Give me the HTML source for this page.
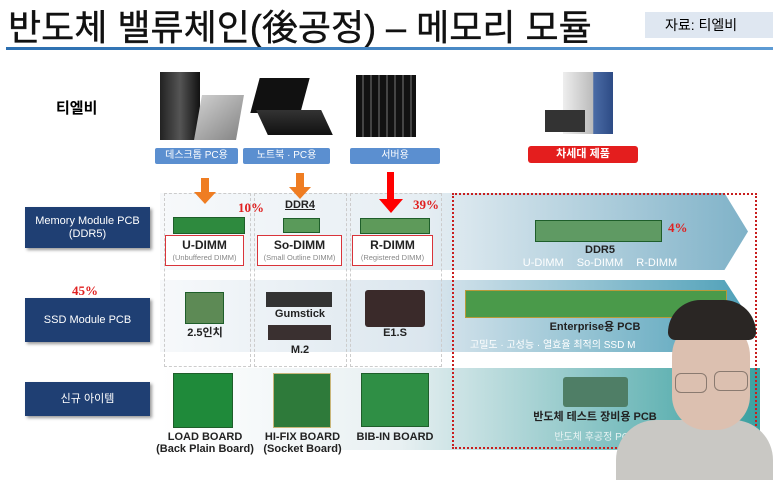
<!DOCTYPE html>
<html><head><meta charset="utf-8"><style>
body{margin:0;width:773px;height:459px;overflow:hidden;background:#fff;position:relative;font-family:"Liberation Sans","Noto Sans CJK KR",sans-serif}
.a{position:absolute}
.c{position:absolute;text-align:center;white-space:nowrap}
.lbl{position:absolute;background:#1f3f73;color:#fff;font-size:11px;text-align:center;display:flex;align-items:center;justify-content:center;line-height:13px;box-shadow:2px 2px 3px #999}
.blue{position:absolute;background:#5b8fd0;color:#fff;font-size:10px;text-align:center;line-height:16px;border-radius:2px}
.rb{position:absolute;border:1.5px solid #d9343a;background:#fff;text-align:center;font-weight:bold;font-size:12px;line-height:15px;color:#222}
.rb small{display:block;font-weight:normal;font-size:7.5px;color:#888;line-height:10px}
.b{font-weight:bold;font-size:11px;color:#222}
.pct{position:absolute;color:#e02020;font-weight:bold;font-size:13px;font-family:"Liberation Serif","Noto Serif CJK SC",serif}
.dash{position:absolute;border:1px dashed #ccc}
.pcb{position:absolute;background:#2e8a3e;border:1px solid #1e5e2a}
</style></head><body>
<div class="a" style="left:8px;top:6px;font-size:36px;line-height:44px;color:#111;-webkit-text-stroke:0.4px #111">반도체 밸류체인(後공정) – 메모리 모듈</div>
<div class="a" style="left:645px;top:12px;width:128px;height:26px;background:#dfe7f1;font-size:14px;line-height:26px;padding-left:20px;box-sizing:border-box">자료: 티엘비</div>
<div class="a" style="left:6px;top:47px;width:767px;height:3px;background:linear-gradient(90deg,#2c6fb0,#5d9bd4)"></div>

<div class="a" style="left:56px;top:97px;font-weight:bold;font-size:15px">티엘비</div>
<div class="a" style="left:160px;top:72px;width:40px;height:68px;background:linear-gradient(90deg,#222,#555,#111)"></div>
<div class="a" style="left:198px;top:95px;width:42px;height:45px;background:linear-gradient(135deg,#ccc,#888);transform:skewX(-10deg)"></div>
<div class="a" style="left:255px;top:78px;width:50px;height:35px;background:#111;transform:skewX(-15deg)"></div>
<div class="a" style="left:262px;top:110px;width:65px;height:25px;background:linear-gradient(#333,#111);transform:skewX(25deg)"></div>
<div class="a" style="left:356px;top:75px;width:60px;height:62px;background:repeating-linear-gradient(90deg,#111 0 6px,#444 6px 8px)"></div>
<div class="a" style="left:563px;top:72px;width:50px;height:62px;background:linear-gradient(90deg,#eee,#bbb 60%,#4b6ca6 61%,#2d4b85)"></div>
<div class="a" style="left:545px;top:110px;width:40px;height:22px;background:#333"></div>

<div class="blue" style="left:155px;top:148px;width:83px">데스크톱 PC용</div>
<div class="blue" style="left:243px;top:148px;width:87px">노트북 · PC용</div>
<div class="blue" style="left:350px;top:148px;width:90px">서버용</div>
<div class="a" style="left:528px;top:146px;width:110px;height:17px;background:#e41e1e;color:#fff;font-weight:bold;font-size:11px;text-align:center;line-height:17px;border-radius:3px">차세대 제품</div>

<div class="a" style="left:160px;top:193px;width:588px;height:77px;background:linear-gradient(90deg,#f7f9fb,#e6eef3 45%,#7fb2c8);clip-path:polygon(0 0,96% 0,100% 50%,96% 100%,0 100%)"></div>
<div class="a" style="left:160px;top:280px;width:588px;height:72px;background:linear-gradient(90deg,#f7f9fb,#dbe6ee 45%,#4ea0b8);clip-path:polygon(0 0,96% 0,100% 50%,96% 100%,0 100%)"></div>
<div class="a" style="left:160px;top:368px;width:600px;height:82px;background:linear-gradient(90deg,#fff,#e8f0f2 40%,#3aa0a0)"></div>

<div class="dash" style="left:164px;top:193px;width:85px;height:172px"></div>
<div class="dash" style="left:254px;top:193px;width:91px;height:172px"></div>
<div class="dash" style="left:350px;top:193px;width:90px;height:172px"></div>
<div class="a" style="left:452px;top:193px;width:301px;height:252px;border:2px dotted #c81e1e"></div>

<div class="a" style="left:201px;top:178px;width:8px;height:14px;background:#ef7d22"></div>
<div class="a" style="left:194px;top:192px;border-left:11px solid transparent;border-right:11px solid transparent;border-top:12px solid #ef7d22"></div>
<div class="a" style="left:296px;top:173px;width:8px;height:14px;background:#ef7d22"></div>
<div class="a" style="left:289px;top:187px;border-left:11px solid transparent;border-right:11px solid transparent;border-top:12px solid #ef7d22"></div>
<div class="a" style="left:387px;top:172px;width:7px;height:28px;background:#f00"></div>
<div class="a" style="left:379px;top:199px;border-left:12px solid transparent;border-right:12px solid transparent;border-top:14px solid #f00"></div>

<div class="lbl" style="left:25px;top:207px;width:125px;height:41px">Memory Module PCB<br>(DDR5)</div>
<div class="lbl" style="left:25px;top:298px;width:125px;height:44px">SSD Module PCB</div>
<div class="lbl" style="left:25px;top:382px;width:125px;height:34px">신규 아이템</div>

<div class="pct" style="left:238px;top:200px">10%</div>
<div class="pct" style="left:413px;top:197px">39%</div>
<div class="pct" style="left:668px;top:220px">4%</div>
<div class="pct" style="left:72px;top:283px">45%</div>

<div class="c b" style="left:280px;top:199px;width:40px;text-decoration:underline">DDR4</div>
<div class="pcb" style="left:173px;top:217px;width:70px;height:15px"></div>
<div class="pcb" style="left:283px;top:218px;width:35px;height:13px;background:#5a9a5a"></div>
<div class="pcb" style="left:360px;top:218px;width:68px;height:14px;background:#5e9a5a"></div>
<div class="rb" style="left:165px;top:235px;width:79px;height:31px;padding-top:2px;box-sizing:border-box">U-DIMM<small>(Unbuffered DIMM)</small></div>
<div class="rb" style="left:257px;top:235px;width:85px;height:31px;padding-top:2px;box-sizing:border-box">So-DIMM<small>(Small Outline DIMM)</small></div>
<div class="rb" style="left:352px;top:235px;width:81px;height:31px;padding-top:2px;box-sizing:border-box">R-DIMM<small>(Registered DIMM)</small></div>

<div class="pcb" style="left:535px;top:220px;width:125px;height:20px;background:#5f9a63"></div>
<div class="c b" style="left:570px;top:244px;width:60px">DDR5</div>
<div class="c" style="left:510px;top:257px;width:180px;color:#fff;font-size:11px;word-spacing:10px">U-DIMM So-DIMM R-DIMM</div>

<div class="pcb" style="left:185px;top:292px;width:37px;height:30px;background:#5d8a55"></div>
<div class="c b" style="left:185px;top:324px;width:40px">2.5인치</div>
<div class="a" style="left:266px;top:292px;width:66px;height:15px;background:#333"></div>
<div class="c b" style="left:270px;top:308px;width:60px">Gumstick</div>
<div class="a" style="left:268px;top:325px;width:63px;height:15px;background:#3a3030"></div>
<div class="c b" style="left:285px;top:344px;width:30px">M.2</div>
<div class="a" style="left:365px;top:290px;width:60px;height:37px;background:#3a2a2a;border-radius:3px"></div>
<div class="c b" style="left:380px;top:327px;width:30px">E1.S</div>

<div class="a" style="left:465px;top:290px;width:260px;height:26px;background:#4a9a4a;border:1px solid #b89a3a"></div>
<div class="c b" style="left:540px;top:318px;width:110px">Enterprise용 PCB</div>
<div class="c" style="left:470px;top:336px;width:230px;color:#fff;font-size:10px;text-align:left">고밀도 · 고성능 · 열효율 최적의 SSD M</div>

<div class="pcb" style="left:173px;top:373px;width:58px;height:53px;background:#1f8a3a"></div>
<div class="pcb" style="left:273px;top:373px;width:56px;height:53px;background:#2e7a3a;border-color:#c9b67a"></div>
<div class="pcb" style="left:361px;top:373px;width:66px;height:52px;background:#2f8f45"></div>
<div class="c b" style="left:155px;top:431px;width:100px;line-height:12px">LOAD BOARD<br>(Back Plain Board)</div>
<div class="c b" style="left:255px;top:431px;width:95px;line-height:12px">HI-FIX BOARD<br>(Socket Board)</div>
<div class="c b" style="left:350px;top:431px;width:90px;line-height:12px">BIB-IN BOARD</div>

<div class="a" style="left:563px;top:377px;width:65px;height:30px;background:#4f7e66;border-radius:3px"></div>
<div class="c b" style="left:530px;top:408px;width:130px">반도체 테스트 장비용 PCB</div>
<div class="c" style="left:545px;top:428px;width:100px;color:#e6f2f2;font-size:10px">반도체 후공정 PCB</div>

<div class="a" style="left:616px;top:420px;width:157px;height:60px;background:#c9c8c4;border-radius:40px 40px 0 0"></div>
<div class="a" style="left:672px;top:318px;width:78px;height:112px;background:#dcc0b0;border-radius:38px 38px 34px 34px"></div>
<div class="a" style="left:668px;top:300px;width:88px;height:40px;background:#2a2624;border-radius:44px 44px 10px 10px"></div>
<div class="a" style="left:675px;top:373px;width:30px;height:18px;border:1.5px solid #8a7a70;border-radius:6px"></div>
<div class="a" style="left:714px;top:371px;width:32px;height:18px;border:1.5px solid #8a7a70;border-radius:6px"></div>
</body></html>
